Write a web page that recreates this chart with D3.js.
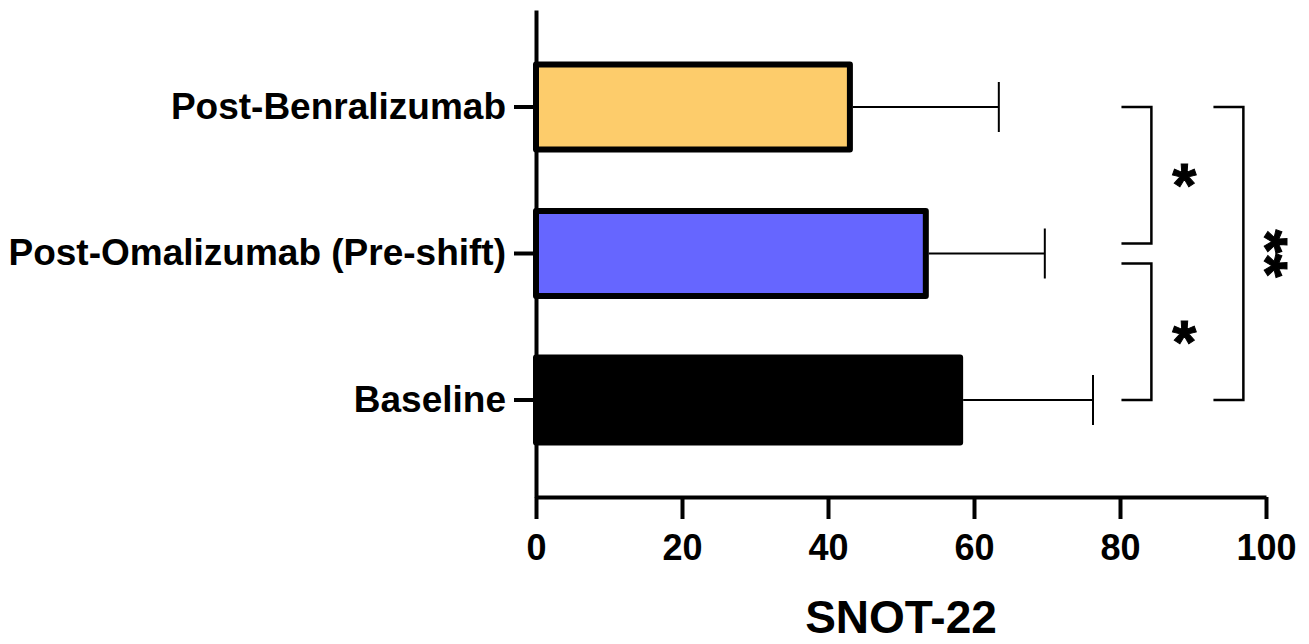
<!DOCTYPE html>
<html><head><meta charset="utf-8">
<script src="https://cdn.jsdelivr.net/npm/d3@7"></script>
<style>body{margin:0;background:#fff}svg{display:block}</style>
</head><body><svg id="c" width="1309" height="644"></svg>
<script>
// ---- data ----
const categories = ["Post-Benralizumab", "Post-Omalizumab (Pre-shift)", "Baseline"];
const means = [43.0, 53.4, 58.1];
const errors = [20.4, 16.3, 18.2];
const barColors = ["#FDCC6B", "#6666FF", "#000000"];
const xTicks = [0, 20, 40, 60, 80, 100];
const xTitle = "SNOT-22";
// significance brackets
const compFrom = [0, 1, 0];
const compTo = [1, 2, 2];
const compX0 = [80.2, 80.2, 92.8];
const compX1 = [84.3, 84.3, 96.9];
const compLabel = ["*", "*", "**"];

// ---- chart ----
const svg = d3.select("#c");
const font = "'Liberation Sans', Arial, Helvetica, sans-serif";
const x = d3.scaleLinear().domain([0, 100]).range([536, 1266]);
const y = d3.scaleBand().domain(categories).range([10, 497]).paddingInner(0.42).paddingOuter(0.372);

// bars
svg.append("g").selectAll("rect").data(categories).join("rect")
  .attr("x", x(0))
  .attr("y", d => y(d))
  .attr("width", (d, i) => x(means[i]) - x(0))
  .attr("height", y.bandwidth())
  .attr("fill", (d, i) => barColors[i])
  .attr("stroke", "#000").attr("stroke-width", 6).attr("stroke-linejoin", "round");

// error bars
const eb = svg.append("g").attr("stroke", "#000").attr("stroke-width", 2);
categories.forEach((c, i) => {
  const cy = y(c) + y.bandwidth() / 2;
  eb.append("line").attr("x1", x(means[i]) + 3).attr("x2", x(means[i] + errors[i])).attr("y1", cy).attr("y2", cy);
  eb.append("line").attr("x1", x(means[i] + errors[i])).attr("x2", x(means[i] + errors[i])).attr("y1", cy - 25).attr("y2", cy + 25);
});

// axes
const xAxis = svg.append("g").attr("transform", "translate(0,497)")
  .call(d3.axisBottom(x).tickValues(xTicks).tickSize(22).tickSizeOuter(0).tickPadding(15));
const yAxis = svg.append("g").attr("transform", `translate(${x(0)},0)`)
  .call(d3.axisLeft(y).tickSize(22).tickSizeOuter(0).tickPadding(8));
[xAxis, yAxis].forEach(a => {
  a.select(".domain").attr("stroke", "#000").attr("stroke-width", 4);
  a.selectAll(".tick line").attr("stroke", "#000").attr("stroke-width", 4);
  a.selectAll(".tick text").attr("fill", "#000").style("font-family", font).style("font-weight", "bold");
});
xAxis.selectAll(".tick text").style("font-size", "36px");
yAxis.selectAll(".tick text").style("font-size", "37px");

// axis title
svg.append("text").attr("x", (x(0) + x(100)) / 2).attr("y", 633)
  .attr("text-anchor", "middle").style("font-family", font).style("font-weight", "bold").style("font-size", "46px")
  .text(xTitle);

// brackets
const br = svg.append("g");
compFrom.forEach((f, i) => {
  const shared = (cat, self) => compFrom.some((g, j) => j !== self && compX0[j] === compX0[self] && (g === cat || compTo[j] === cat));
  let y0 = y(categories[f]) + y.bandwidth() / 2;
  let y1 = y(categories[compTo[i]]) + y.bandwidth() / 2;
  if (shared(f, i)) y0 += 10;
  if (shared(compTo[i], i)) y1 -= 10;
  const xa = x(compX0[i]), xb = x(compX1[i]);
  br.append("path").attr("d", `M${xa},${y0}H${xb}V${y1}H${xa}`)
    .attr("fill", "none").attr("stroke", "#000").attr("stroke-width", 2.5);
  const fs = 62;
  const g = br.append("g").attr("transform", `translate(${xb + 33},${(y0 + y1) / 2})` + (compLabel[i].length > 1 ? " rotate(90)" : ""));
  g.append("text").attr("text-anchor", "middle").attr("y", fs * 0.5)
    .attr("stroke", "#000").attr("stroke-width", 1)
    .style("font-family", font).style("font-weight", "bold").style("font-size", fs + "px")
    .text(compLabel[i]);
});
</script></body></html>
